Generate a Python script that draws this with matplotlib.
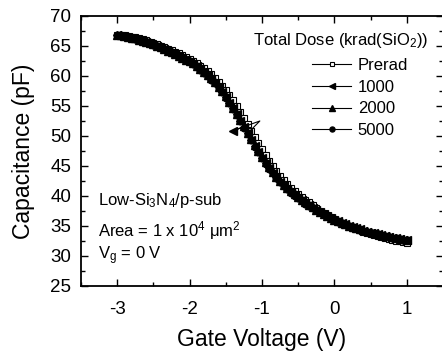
import matplotlib
matplotlib.use("Agg")
import matplotlib.pyplot as plt
from matplotlib.ticker import MultipleLocator

plt.rcParams['font.family'] = ['Liberation Sans', 'DejaVu Sans']
plt.rcParams['mathtext.fontset'] = 'custom'
plt.rcParams['mathtext.rm'] = 'Liberation Sans'
plt.rcParams['mathtext.it'] = 'Liberation Sans'
plt.rcParams['axes.unicode_minus'] = False

# ---------------- data ----------------
voltage = [-3.00, -2.95, -2.90, -2.85, -2.80, -2.75, -2.70, -2.65, -2.60, -2.55,
           -2.50, -2.45, -2.40, -2.35, -2.30, -2.25, -2.20, -2.15, -2.10, -2.05,
           -2.00, -1.95, -1.90, -1.85, -1.80, -1.75, -1.70, -1.65, -1.60, -1.55,
           -1.50, -1.45, -1.40, -1.35, -1.30, -1.25, -1.20, -1.15, -1.10, -1.05,
           -1.00, -0.95, -0.90, -0.85, -0.80, -0.75, -0.70, -0.65, -0.60, -0.55,
           -0.50, -0.45, -0.40, -0.35, -0.30, -0.25, -0.20, -0.15, -0.10, -0.05,
           0.00, 0.05, 0.10, 0.15, 0.20, 0.25, 0.30, 0.35, 0.40, 0.45,
           0.50, 0.55, 0.60, 0.65, 0.70, 0.75, 0.80, 0.85, 0.90, 0.95,
           1.00]

cap_prerad = [66.88, 66.84, 66.76, 66.66, 66.54, 66.42, 66.28, 66.12, 65.94, 65.74,
              65.54, 65.32, 65.08, 64.84, 64.58, 64.32, 64.04, 63.76, 63.46, 63.14,
              62.82, 62.48, 62.11, 61.71, 61.27, 60.79, 60.27, 59.71, 59.08, 58.39,
              57.64, 56.83, 55.94, 55.00, 54.01, 52.98, 51.93, 50.87, 49.80, 48.76,
              47.75, 46.78, 45.85, 44.98, 44.17, 43.40, 42.66, 41.99, 41.40, 40.85,
              40.33, 39.84, 39.38, 38.95, 38.54, 37.92, 37.55, 37.18, 36.83, 36.48,
              36.12, 35.80, 35.50, 35.22, 34.96, 34.72, 34.49, 34.27, 34.06, 33.86,
              33.67, 33.49, 33.32, 33.16, 33.01, 32.86, 32.72, 32.58, 32.45, 32.32,
              32.20]

# 1000 krad series contains one stray excursion (two extra samples)
voltage_1000 = [-3.00, -2.95, -2.90, -2.85, -2.80, -2.75, -2.70, -2.65, -2.60, -2.55,
                -2.50, -2.45, -2.40, -2.35, -2.30, -2.25, -2.20, -2.15, -2.10, -2.05,
                -2.00, -1.95, -1.90, -1.85, -1.80, -1.75, -1.70, -1.65, -1.60, -1.55,
                -1.50, -1.45, -1.40, -1.35, -1.30, -1.25, -1.40, -1.03,
                -1.20, -1.15, -1.10, -1.05,
                -1.00, -0.95, -0.90, -0.85, -0.80, -0.75, -0.70, -0.65, -0.60, -0.55,
                -0.50, -0.45, -0.40, -0.35, -0.30, -0.25, -0.20, -0.15, -0.10, -0.05,
                0.00, 0.05, 0.10, 0.15, 0.20, 0.25, 0.30, 0.35, 0.40, 0.45,
                0.50, 0.55, 0.60, 0.65, 0.70, 0.75, 0.80, 0.85, 0.90, 0.95,
                1.00]
cap_1000 = [66.80, 66.71, 66.60, 66.48, 66.35, 66.20, 66.03, 65.84, 65.64, 65.43,
            65.20, 64.96, 64.71, 64.45, 64.18, 63.90, 63.61, 63.30, 62.98, 62.65,
            62.40, 62.02, 61.60, 61.14, 60.64, 60.10, 59.51, 58.85, 58.13, 57.35,
            56.50, 55.58, 54.61, 53.60, 52.56, 51.50, 50.90, 52.50,
            50.43, 49.37, 48.34, 47.35,
            46.40, 45.50, 44.66, 43.87, 43.12, 42.40, 41.78, 41.21, 40.68, 40.18,
            39.70, 39.26, 38.84, 38.44, 38.06, 37.65, 37.28, 36.94, 36.62, 36.31,
            36.01, 35.75, 35.50, 35.26, 35.03, 34.81, 34.61, 34.42, 34.24, 34.07,
            33.91, 33.76, 33.62, 33.48, 33.34, 33.21, 33.08, 32.96, 32.84, 32.72,
            32.61]

cap_2000 = [66.85, 66.76, 66.65, 66.53, 66.40, 66.25, 66.08, 65.89, 65.69, 65.48,
            65.25, 65.01, 64.76, 64.50, 64.23, 63.95, 63.66, 63.35, 63.03, 62.70,
            62.50, 62.12, 61.70, 61.24, 60.74, 60.20, 59.61, 58.95, 58.23, 57.45,
            56.60, 55.68, 54.71, 53.70, 52.66, 51.60, 50.53, 49.47, 48.44, 47.45,
            46.50, 45.60, 44.76, 43.97, 43.22, 42.50, 41.88, 41.31, 40.78, 40.28,
            39.80, 39.36, 38.94, 38.54, 38.16, 37.70, 37.36, 36.98, 36.66, 36.35,
            36.05, 35.79, 35.54, 35.30, 35.07, 34.85, 34.65, 34.46, 34.28, 34.11,
            33.95, 33.80, 33.66, 33.52, 33.38, 33.25, 33.12, 33.00, 32.88, 32.76,
            32.65]

cap_5000 = [66.80, 66.71, 66.60, 66.48, 66.35, 66.20, 66.03, 65.84, 65.64, 65.43,
            65.20, 64.96, 64.71, 64.45, 64.18, 63.90, 63.61, 63.30, 62.98, 62.65,
            62.30, 61.92, 61.50, 61.04, 60.54, 60.00, 59.41, 58.75, 58.03, 57.25,
            56.40, 55.48, 54.51, 53.50, 52.46, 51.40, 50.33, 49.27, 48.24, 47.25,
            46.30, 45.40, 44.56, 43.77, 43.02, 42.30, 41.68, 41.11, 40.58, 40.08,
            39.60, 39.16, 38.74, 38.34, 37.96, 37.60, 37.26, 36.93, 36.61, 36.30,
            36.00, 35.74, 35.49, 35.25, 35.02, 34.80, 34.60, 34.41, 34.23, 34.06,
            33.90, 33.75, 33.61, 33.47, 33.33, 33.20, 33.07, 32.95, 32.83, 32.71,
            32.60]

legend_labels = ["Prerad", "1000", "2000", "5000"]
x_ticks = [-3, -2, -1, 0, 1]
y_ticks = [25, 30, 35, 40, 45, 50, 55, 60, 65, 70]

# ---------------- figure ----------------
W, H = 442, 351
fig = plt.figure(figsize=(W / 100, H / 100), dpi=100)
ax = fig.add_axes([81 / W, 1 - 286 / H, (443 - 81) / W, (286 - 16) / H])

lw = 0.8
ms = 4.8
ax.plot(voltage, cap_prerad, '-', color='black', lw=lw, marker='s', ms=ms,
        mfc='white', mec='black', mew=0.8, label=legend_labels[0], zorder=2)
skip = [i for i in range(len(voltage_1000)) if i != 37]
ax.plot(voltage_1000, cap_1000, '-', color='black', lw=lw, marker='<', ms=ms + 0.4,
        mfc='black', mec='black', markevery=skip, label=legend_labels[1], zorder=3)
ax.plot(voltage, cap_2000, '-', color='black', lw=lw, marker='^', ms=ms + 0.3,
        mfc='black', mec='black', label=legend_labels[2], zorder=3)
ax.plot(voltage, cap_5000, '-', color='black', lw=lw, marker='o', ms=ms,
        mfc='black', mec='black', label=legend_labels[3], zorder=4)

ax.set_xlim(-3.5, 1.5)
ax.set_ylim(25, 70)
ax.set_xticks(x_ticks)
ax.set_yticks(y_ticks)
ax.xaxis.set_minor_locator(MultipleLocator(0.5))
ax.yaxis.set_minor_locator(MultipleLocator(2.5))
ax.tick_params(which='both', direction='in', top=True, right=True, width=1.0,
               labelsize=13.5, colors='black')
ax.tick_params(which='major', length=5)
ax.tick_params(which='minor', length=3)
ax.tick_params(axis='y', pad=7)
ax.tick_params(axis='x', pad=11)
for s in ax.spines.values():
    s.set_linewidth(1.3)

ax.set_xlabel("Gate Voltage (V)", fontsize=16.5, labelpad=7)
ax.set_ylabel("Capacitance (pF)", fontsize=16.5, labelpad=11)

# legend
fig.text(428 / W, 1 - 40 / H, "Total Dose (krad(SiO$_2$))", ha='right', va='center',
         fontsize=12)
leg = ax.legend(loc='upper left', bbox_to_anchor=(312 / W, 1 - 58 / H),
                bbox_transform=fig.transFigure, frameon=False, fontsize=12,
                handlelength=2.35, handletextpad=0.4, labelspacing=0.4,
                borderpad=0, borderaxespad=0, markerscale=0.75)

# annotations
fig.text(98 / W, 1 - 201 / H, "Low-Si$_3$N$_4$/p-sub", ha='left', va='center', fontsize=12)
fig.text(98 / W, 1 - 231 / H, "Area = 1 x 10$^4$ μm$^2$", ha='left', va='center', fontsize=12)
fig.text(98 / W, 1 - 256 / H, "V$_g$ = 0 V", ha='left', va='center', fontsize=12)

fig.savefig("out.png", dpi=100)
